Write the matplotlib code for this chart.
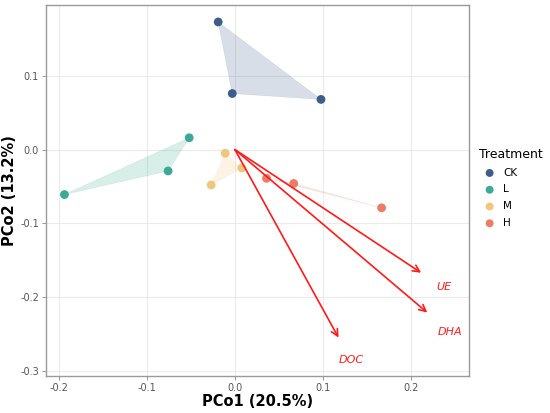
import numpy as np
import matplotlib.pyplot as plt
from matplotlib.patches import Polygon

# PCoA scores
groups = ['CK', 'L', 'M', 'H']
colors = ['#3D5E88', '#3BAA94', '#F2C57C', '#EE7C64']
pc1 = {
    'CK': [-0.019, -0.003, 0.098],
    'L': [-0.052, -0.076, -0.194],
    'M': [-0.011, 0.008, -0.027],
    'H': [0.036, 0.067, 0.167],
}
pc2 = {
    'CK': [0.173, 0.076, 0.068],
    'L': [0.016, -0.029, -0.061],
    'M': [-0.005, -0.025, -0.048],
    'H': [-0.039, -0.046, -0.079],
}

# environmental vectors
env_names = ['UE', 'DHA', 'DOC']
env_x = [0.212, 0.219, 0.118]
env_y = [-0.167, -0.221, -0.255]
lab_x = [0.238, 0.245, 0.133]
lab_y = [-0.186, -0.248, -0.285]

fig = plt.figure(figsize=(5.5, 4.13), dpi=100)
ax = fig.add_axes([46/550, 1 - 376/413, 423/550, 371/413])

for g, c in zip(groups, colors):
    xs = np.array(pc1[g])
    ys = np.array(pc2[g])
    poly = Polygon(np.column_stack([xs, ys]), closed=True, facecolor=c,
                   edgecolor=c, alpha=0.2, lw=0.3, zorder=2)
    ax.add_patch(poly)
    ax.scatter(xs, ys, s=40, color=c, edgecolors='none', zorder=4, label=g)

for n, ex, ey, lx, ly in zip(env_names, env_x, env_y, lab_x, lab_y):
    ax.annotate('', xy=(ex, ey), xytext=(0, 0),
                arrowprops=dict(arrowstyle='->', color='#FF1A1A', lw=1.2,
                                mutation_scale=12, shrinkA=0, shrinkB=0),
                zorder=5)
    ax.text(lx, ly, n, color='#FF1A1A', style='italic', fontsize=8,
            ha='center', va='center', zorder=5)

ax.set_xlim(-0.215, 0.2665)
ax.set_ylim(-0.307, 0.196)
ax.set_xticks([-0.2, -0.1, 0.0, 0.1, 0.2])
ax.set_xticklabels(['-0.2', '-0.1', '0.0', '0.1', '0.2'])
ax.set_yticks([-0.3, -0.2, -0.1, 0.0, 0.1])
ax.set_yticklabels(['-0.3', '-0.2', '-0.1', '0.0', '0.1'])
ax.grid(True, color='#EBEBEB', lw=0.8, zorder=0)
ax.set_axisbelow(True)
for sp in ax.spines.values():
    sp.set_color('#9A9A9A')
    sp.set_linewidth(1.0)
ax.tick_params(colors='#555555', labelsize=7, length=3, width=0.6, pad=2)
ax.tick_params(axis='both', color='#888888')
ax.set_xlabel('PCo1 (20.5%)', fontsize=10.5, fontweight='bold', labelpad=1)
ax.set_ylabel('PCo2 (13.2%)', fontsize=10.5, fontweight='bold', labelpad=2)

leg = ax.legend(title='Treatment', loc='upper left', bbox_to_anchor=(1.002, 0.64),
                frameon=False, fontsize=7.5, title_fontsize=9,
                handletextpad=0.3, labelspacing=0.65, markerscale=0.9)
leg._legend_box.align = 'left'

fig.savefig('out.png', dpi=100)
